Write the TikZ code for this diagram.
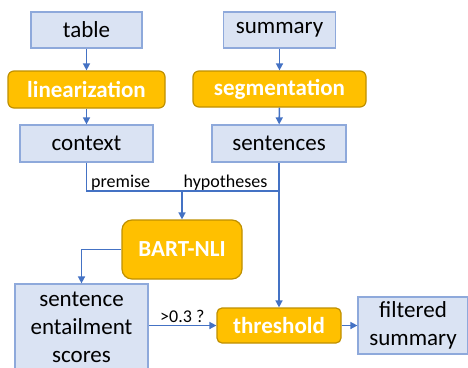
\documentclass[tikz,border=0pt]{standalone}
\usepackage{fontspec}
\setmainfont{Carlito}
\usetikzlibrary{arrows.meta}
\definecolor{bfill}{HTML}{DAE3F3}
\definecolor{bdraw}{HTML}{8EA9DB}
\definecolor{ofill}{HTML}{FFC000}
\definecolor{odraw}{HTML}{BF9000}
\definecolor{conn}{HTML}{4472C4}
\tikzset{
  databox/.style={draw=bdraw, fill=bfill, line width=1.2pt, inner sep=0pt, align=center,
    font=\fontsize{23}{28}\selectfont, text=black},
  procbox/.style={draw=odraw, fill=ofill, line width=1.2pt, inner sep=0pt, rounded corners=6pt,
    font=\fontsize{23}{28}\selectfont\bfseries, text=white},
  conn/.style={draw=conn, line width=1.5pt},
  arr/.style={conn, -{Triangle[length=7pt,width=7pt]}},
  lbl/.style={font=\fontsize{18}{20}\selectfont, inner sep=0pt, text=black}
}
\begin{document}
\begin{tikzpicture}[x=1pt,y=-1pt]
\useasboundingbox (0,0) rectangle (468,367);
% data boxes
\node[databox, minimum width=111pt, minimum height=36pt] (table) at (86.5,30) {table};
\node[databox, minimum width=133pt, minimum height=37pt] (context) at (86.5,143.5) {context};
\node[databox, minimum width=112pt, minimum height=36pt] (summary) at (279.5,30) {summary};
\node[databox, minimum width=134pt, minimum height=37pt] (sentences) at (279,143.5) {sentences};
\node[databox, minimum width=133pt, minimum height=86pt] (scores) at (81.5,327) {sentence\\entailment\\scores};
\node[databox, minimum width=110pt, minimum height=57pt] (filtered) at (413,325.5) {filtered\\summary};
% process boxes
\node[procbox, minimum width=157pt, minimum height=37pt] (lin) at (86.5,89.5) {linearization};
\node[procbox, minimum width=173pt, minimum height=36pt] (seg) at (279.5,89) {segmentation};
\node[procbox, minimum width=120pt, minimum height=59pt, rounded corners=10pt] (bart) at (182,249.5) {BART-NLI};
\node[procbox, minimum width=124pt, minimum height=35pt, rounded corners=5pt] (thr) at (279,325.5) {threshold};
% connectors
\coordinate (j) at (182,191);
\draw[arr] (table) -- (lin);
\draw[arr] (lin) -- (context);
\draw[arr] (summary) -- (seg);
\draw[arr] (seg) -- (sentences);
\draw[conn] (context.south) -- (context.south |- j) -- (sentences.south |- j);
\draw[arr] (sentences.south) -- (thr.north);
\draw[arr] (j) -- (bart.north);
\draw[arr] (bart.west) -| (scores.north);
\draw[arr] (scores.east |- thr.west) -- (thr.west);
\draw[arr] (thr.east) -- (filtered.west);
% labels
\node[lbl, anchor=base west] (prem) at (91,187.5) {premise};
\node[lbl, anchor=base west] (hyp) at (183.5,187.5) {hypotheses};
\node[lbl, anchor=base west] (gt) at (160,322) {>0.3 ?};
\end{tikzpicture}
\end{document}
